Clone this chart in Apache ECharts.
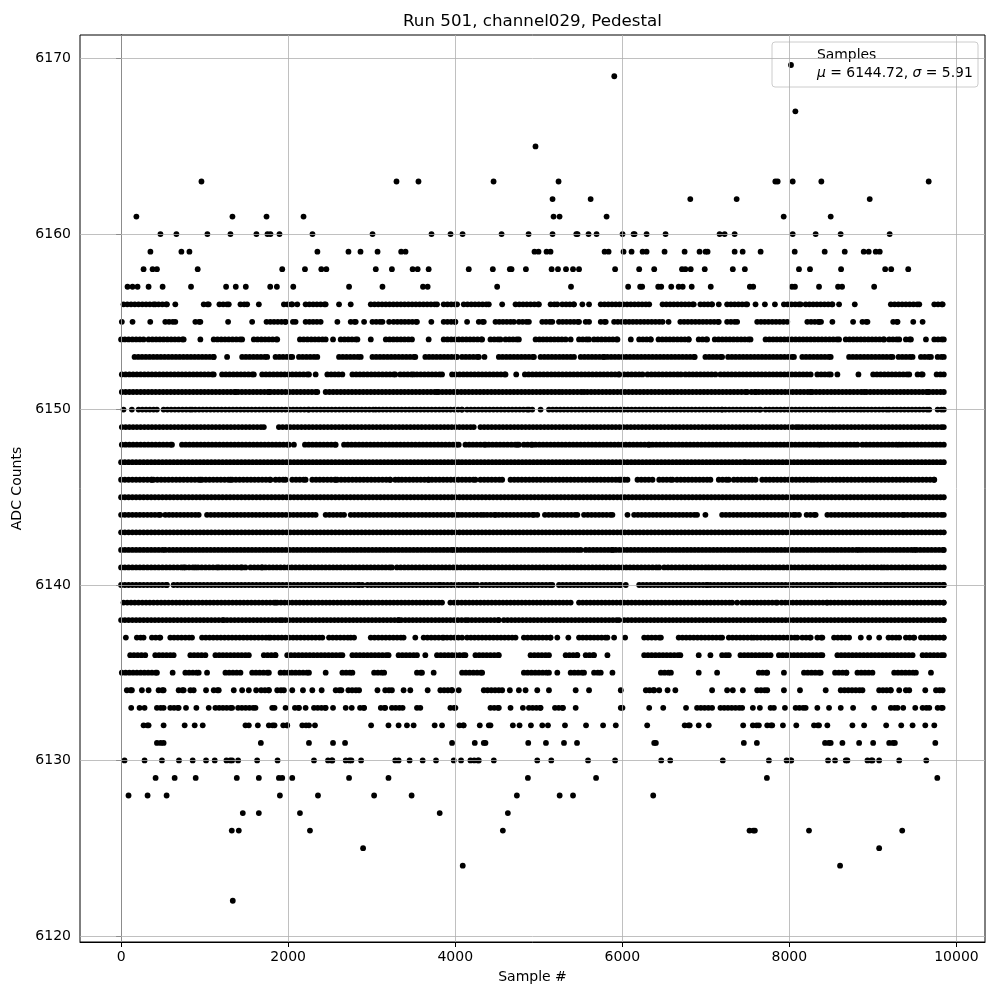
<!DOCTYPE html>
<html>
<head>
<meta charset="utf-8">
<script src="https://cdn.jsdelivr.net/npm/echarts@6/dist/echarts.min.js"></script>
<style>html,body{margin:0;padding:0;background:#fff}#chart{width:1000px;height:1000px}</style>
</head>
<body>
<div id="chart"></div>
<script>
// Tick labels
const X_TICKS = [0, 2000, 4000, 6000, 8000, 10000];
const Y_TICKS = [6120, 6130, 6140, 6150, 6160, 6170];

// Samples per ADC level: single sample indices, or [first, last] runs of consecutive dots
const L6169 = [5904];
const L6167 = [8072];
const L6165 = [4961];
const L6163 = [962, 3297, 3560, 4459, 5237, 7832, 7860, 8040, 8383, 9668];
const L6162 = [5165, 5621, 6814, 7369, 8962];
const L6161 = [183, 1333, 1741, 2184, 5177, 5249, 5812, 7932, 8495];
const L6160 = [471, 662, 1033, 1309, 1620, 1752, 1788, 1896, 2291, 3010, 3716, 3944, 4088, 4555, 4878, 5165, 5449, 5464, 5596, 5692, 6003, 6135, 6147, 6291, 6518, 7165, 7225, 7345, 8040, 8315, 8614, 9201];
const L6159 = [351, 722, 818, 2350, 2722, 2866, 3070, 3353, 3405, 4949, 4997, 5093, 5141, 5788, 5836, 6015, 6111, 6243, 6291, 6506, 6746, 6925, 6997, 7021, 7345, 7441, 7656, 8064, 8423, 8663, 8890, 8950, 9034, 9082];
const L6158 = [269, 377, 429, 917, 1929, 2201, 2397, 2457, 3049, 3242, 3490, 3550, 3682, 4162, 4450, 4654, 4674, 4846, 5154, 5230, 5326, 5410, 5482, 5914, 6202, 6382, 6715, 6755, 6819, 6987, 7323, 7467, 8115, 8247, 8619, 9147, 9219, 9423];
const L6157 = [77, 137, 197, 329, 497, 837, 1257, 1373, 1493, 1785, 1865, 2061, 2729, 3129, 3614, 3670, 4502, 5386, 6070, 6214, 6238, 6430, 6466, 6586, 6675, 6723, 6831, 7059, 7527, 7567, 8031, 8067, 8355, 8583, 8631, 9015];
const L6156 = [[29, 409], [449, 549], 649, [989, 1049], [1177, 1289], [1429, 1509], 1649, [1949, 2049], 2109, [2209, 2449], 2609, 2749, [2989, 3782], [3862, 4022], [4102, 4402], 4562, [4722, 5002], [5142, 5222], [5282, 5422], 5522, 5602, [5742, 6322], [6482, 6855], [6935, 7075], 7155, [7255, 7495], 7595, 7707, 7827, [7935, 8135], [8195, 8515], 8595, 8783, [9215, 9555], [9735, 9835]];
const L6155 = [9, 137, 349, [529, 649], [889, 949], 1281, 1569, [1741, 1969], [2057, 2089], [2209, 2389], 2589, [2749, 2809], 2909, [3009, 3129], 3209, [3262, 3542], 3714, [3862, 4002], 4142, [4282, 4342], [4482, 4702], [4762, 4882], [5042, 5162], [5242, 5482], [5562, 5602], [5742, 5802], [5902, 6482], 6554, [6695, 7155], [7255, 7375], [7615, 7975], [8215, 8355], 8379, 8515, 8763, [8875, 8935], [9243, 9295], 9483, 9595];
const L6154 = [[0, 269], [329, 749], 949, [1109, 1449], [1589, 1869], [2141, 2449], 2537, [2629, 2829], 2989, [3169, 3482], 3682, [3862, 4322], [4422, 4542], [4602, 4762], [4962, 5322], 5382, [5482, 5602], [5662, 5942], 6102, [6202, 6342], [6434, 6795], [6915, 7015], [7107, 7535], [7715, 8595], [8675, 9135], [9195, 9315], [9395, 9455], 9635, [9735, 9849]];
const L6153 = [[161, 1109], 1269, [1449, 1749], [1849, 2049], [2129, 2349], [2609, 2869], [3009, 3522], [3642, 4022], [4082, 4282], 4350, [4522, 4942], [5022, 5422], [5502, 5782], [5822, 6867], [6995, 7195], [7267, 8055], [8155, 8495], [8715, 9235], [9307, 9475], [9575, 9695], [9775, 9849]];
const L6152 = [[9, 1109], [1209, 1589], [1689, 2249], 2329, [2469, 2649], [2769, 3282], [3342, 3502], [3542, 3842], [3962, 4602], 4730, [4834, 5962], [6022, 6242], [6302, 6702], [6755, 7115], [7175, 8255], [8335, 8495], 8575, 8827, [9003, 9435], [9535, 9595], [9763, 9849]];
const L6151 = [[9, 1369], [1401, 1769], [1789, 2349], [2449, 3782], [3802, 5242], [5282, 5542], [5582, 7495], [7547, 7595], [7635, 8255], [8275, 8895], [8923, 9655], [9675, 9849]];
const L6150 = [29, 129, [209, 429], [509, 849], [889, 2249], [2297, 3049], [3089, 4082], [4142, 4882], 4922, 5022, [5122, 7195], [7235, 7655], [7715, 8515], [8547, 8855], [8895, 9195], [9243, 9675], [9775, 9849]];
const L6149 = [[9, 1709], [1889, 4222], [4302, 8115], [8155, 9849]];
const L6148 = [[9, 609], [729, 2009], 2069, [2201, 2569], [2669, 4042], [4122, 4362], [4402, 4742], 4762, [4822, 4922], [4962, 6322], [6362, 8375], [8415, 8815], [8875, 9315], [9355, 9849]];
const L6147 = [[0, 4042], [4082, 7475], [7515, 9849]];
const L6146 = [[0, 369], [389, 949], [969, 1309], [1329, 1789], [1849, 1969], [2049, 2209], [2289, 2569], [2589, 3222], [3282, 3322], [3362, 3682], [3722, 4242], [4302, 4562], [4662, 5962], [5982, 6062], [6182, 6362], [6442, 6602], [6655, 7055], [7155, 7275], [7335, 7555], 7595, [7675, 8295], [8335, 9735]];
const L6145 = [[0, 9849]];
const L6144 = [[0, 469], [529, 929], [1029, 2329], [2449, 2669], [2749, 4042], [4082, 4342], [4382, 4482], [4522, 4942], 4982, [5074, 5462], [5542, 5882], 6062, [6142, 6895], 6995, [7195, 8075], 8115, [8207, 8315], [8455, 9375], [9415, 9849]];
const L6143 = [[0, 9849]];
const L6142 = [[0, 529], [577, 3982], [4022, 5502], [5562, 5882], [5922, 8835], [8875, 9495], [9523, 9849]];
const L6141 = [[0, 749], [769, 889], [921, 1169], [1209, 1449], 1489, [1549, 1689], [1729, 3242], [3302, 6442], [6502, 7035], [7075, 9135], [9175, 9849]];
const L6140 = [[0, 549], [629, 2849], 2889, [2949, 3822], [3862, 4262], [4322, 5162], [5242, 5982], 6042, [6202, 7015], [7055, 8515], [8555, 9175], [9215, 9849]];
const L6139 = [[29, 1849], [1869, 3842], [3942, 5382], [5482, 7315], 7375, [7435, 7855], [7907, 8455], [8495, 9849]];
const L6138 = [[0, 1229], [1269, 1929], [1969, 3322], 3354, [3402, 4122], [4154, 4522], [4582, 5962], [6022, 9849]];
const L6137 = [57, [189, 269], [369, 469], [589, 849], [969, 1769], [1789, 2409], [2489, 2749], 2789, [2989, 3382], 3522, [3622, 3862], [3902, 4082], [4142, 4722], [4822, 5142], 5222, 5354, [5482, 5822], 5902, 6034, [6262, 6462], [6675, 7195], [7275, 7575], [7615, 8095], [8155, 8255], [8335, 8395], [8535, 8715], 8855, 8955, 9075, [9187, 9315], [9395, 9495], [9575, 9849]];
const L6136 = [[109, 289], [409, 629], [829, 1009], [1129, 1529], [1709, 1849], [1989, 2649], [2769, 3202], [3322, 3542], 3642, [3782, 4122], [4242, 4522], [4902, 5122], [5322, 5462], [5562, 5662], 5822, [6262, 6695], 6915, 7055, [7195, 7275], [7415, 7775], [7875, 8395], [8575, 9475], [9595, 9849]];
const L6135 = [[9, 429], 617, [769, 929], 1029, [1249, 1429], [1569, 1769], [1909, 2249], 2449, [2649, 2769], [3029, 3149], [3542, 3602], 3742, [4082, 4322], [4822, 5122], 5222, [5382, 5542], [5662, 5742], 5882, [6462, 6582], 6915, 7135, [7635, 7735], 7935, [8175, 8375], [8547, 8683], [8815, 8995], [9255, 9515], 9695];
const L6134 = [[69, 129], 249, 329, [449, 509], [689, 749], [829, 869], 1017, [1109, 1169], 1349, 1449, 1529, 1617, [1677, 1769], [1869, 1949], 2049, 2177, 2289, 2401, [2569, 2637], [2721, 2849], 3069, [3162, 3242], 3382, 3462, 3670, [3822, 3962], 4042, [4342, 4562], 4654, 4762, 4842, 4982, 5122, 5442, 5602, 5982, [6282, 6382], 6442, 6542, 6635, 7075, 7255, 7323, 7443, [7615, 7735], 7935, 8127, 8435, [8615, 8875], [9075, 9215], 9315, [9395, 9435], 9627, [9755, 9835]];
const L6133 = [121, 221, 281, [429, 509], [589, 689], 777, 901, 1049, [1129, 1329], [1401, 1609], [1809, 1837], 1969, [2081, 2129], 2209, [2309, 2449], 2537, 2689, 2761, [2861, 2909], [3109, 3162], [3242, 3370], [3542, 3582], [3942, 4002], [4422, 4522], 4662, 4810, [4882, 5022], [5194, 5290], 5442, [5982, 6002], 6322, 6490, 6763, [6895, 7075], [7175, 7435], 7563, 7647, [7775, 7815], 7947, [8075, 8195], 8335, 8475, 8615, 8763, 9015, [9215, 9295], 9363, 9507, [9595, 9675], [9775, 9835]];
const L6132 = [[269, 329], 509, 761, 881, 977, [1489, 1529], 1637, [1769, 1837], [1941, 1989], [2169, 2249], 2321, 2993, 3201, 3322, 3422, 3502, 3754, 3842, [4050, 4102], 4294, [4402, 4422], 4690, 4770, 4906, 5042, 5110, 5314, 5566, 5770, 5922, 6298, [6747, 6807], 6915, 7035, 7447, [7563, 7635], [7735, 7795], 7923, 8083, [8295, 8355], 8455, 8755, 8895, 9159, 9339, 9475, 9627, 9735];
const L6131 = [[429, 509], 1673, 2249, 2537, 2681, 3962, 4234, [4342, 4362], 4874, 5086, 5302, 5458, [6382, 6402], 7455, 7611, [8427, 8495], 8635, 8835, 9003, [9195, 9263], 9747];
const L6130 = [41, 281, 489, 693, 857, 1017, 1121, [1261, 1329], 1401, 1629, 1873, 2309, [2477, 2529], [2689, 2757], 2873, [3282, 3322], 3454, 3610, 3770, 3982, 4070, [4182, 4282], 4462, 4982, 5150, 5590, 5914, 6466, 6574, 7203, 7755, [7967, 8023], 8463, 8547, [8675, 8695], [8935, 8995], 9075, 9315, 9639];
const L6129 = [413, 641, 893, 1385, 1649, [1889, 1929], 2049, 2729, 3201, 4870, 5686, 7731, 9771];
const L6128 = [89, 317, 545, 1901, 2357, 3029, 3478, 4738, 5250, 5410, 6370];
const L6127 = [1457, 1649, 2141, 3814, 4630];
const L6126 = [1325, 1409, 2261, 4570, [7523, 7587], 8235, 9351];
const L6125 = [2897, 9075];
const L6124 = [4090, 8607];
const L6122 = [1337];

const LEVELS = [6169, 6167, 6165, 6163, 6162, 6161, 6160, 6159, 6158, 6157, 6156, 6155, 6154, 6153, 6152, 6151, 6150, 6149, 6148, 6147, 6146, 6145, 6144, 6143, 6142, 6141, 6140, 6139, 6138, 6137, 6136, 6135, 6134, 6133, 6132, 6131, 6130, 6129, 6128, 6127, 6126, 6125, 6124, 6122];
const LEVEL_SAMPLES = [L6169, L6167, L6165, L6163, L6162, L6161, L6160, L6159, L6158, L6157, L6156, L6155, L6154, L6153, L6152, L6151, L6150, L6149, L6148, L6147, L6146, L6145, L6144, L6143, L6142, L6141, L6140, L6139, L6138, L6137, L6136, L6135, L6134, L6133, L6132, L6131, L6130, L6129, L6128, L6127, L6126, L6125, L6124, L6122];

const MEAN_TEXT = '6144.72';
const SIGMA_TEXT = '5.91';

// expand runs of consecutive dots into points (one dot drawn every few samples)
const RUN_STEP = 45;
const points = [];
LEVELS.forEach((lv, i) => {
  LEVEL_SAMPLES[i].forEach(r => {
    if (typeof r === 'number') { points.push([r, lv]); }
    else {
      for (let x = r[0]; x < r[1]; x += RUN_STEP) points.push([x, lv]);
      points.push([r[1], lv]);
    }
  });
});

const FONT = 'DejaVu Sans';
const chart = echarts.init(document.getElementById('chart'), null, { renderer: 'canvas' });
chart.setOption({
  animation: false,
  backgroundColor: '#ffffff',
  grid: { left: 80, top: 35, width: 905, height: 907, show: true, borderColor: '#000', borderWidth: 1, backgroundColor: 'transparent' },
  xAxis: {
    type: 'value', min: -492, max: 10342,
    name: 'Sample #', nameLocation: 'middle', nameGap: 28,
    nameTextStyle: { fontFamily: FONT, fontSize: 14, color: '#000' },
    axisLine: { show: true, lineStyle: { color: '#000', width: 1 } },
    axisTick: { show: true, length: 5, lineStyle: { color: '#000', width: 1 }, customValues: X_TICKS },
    axisLabel: { fontFamily: FONT, fontSize: 14, color: '#000', margin: 8, customValues: X_TICKS, formatter: v => String(v) },
    splitLine: { show: false }
  },
  yAxis: {
    type: 'value', min: 6119.65, max: 6171.35,
    name: 'ADC Counts', nameLocation: 'middle', nameGap: 47,
    nameTextStyle: { fontFamily: FONT, fontSize: 14, color: '#000' },
    axisLine: { show: true, lineStyle: { color: '#000', width: 1 } },
    axisTick: { show: true, length: 5, lineStyle: { color: '#000', width: 1 }, customValues: Y_TICKS },
    axisLabel: { fontFamily: FONT, fontSize: 14, color: '#000', margin: 9, customValues: Y_TICKS, formatter: v => String(v) },
    splitLine: { show: false }
  },
  series: [
    {
      type: 'line', data: [], z: 1, silent: true,
      markLine: {
        silent: true, symbol: ['none', 'none'], animation: false,
        label: { show: false },
        lineStyle: { color: '#b0b0b0', width: 0.8, type: 'solid' },
        data: X_TICKS.map(v => ({ xAxis: v })).concat(Y_TICKS.map(v => ({ yAxis: v })))
      }
    },
    {
      type: 'scatter', name: 'Samples', data: points, z: 3,
      symbol: 'circle', symbolSize: 5.8,
      itemStyle: { color: '#000', opacity: 1 },
      large: false, silent: true
    }
  ],
  graphic: [
    { type: 'text', x: 532.5, y: 22, style: { text: 'Run 501, channel029, Pedestal', font: '16.7px "DejaVu Sans"', fill: '#000', align: 'center', verticalAlign: 'middle' } },
    { type: 'rect', shape: { x: 772, y: 42, width: 206, height: 45, r: 3 }, style: { fill: 'rgba(255,255,255,0.8)', stroke: '#cccccc', lineWidth: 1 }, z: 100 },
    { type: 'circle', shape: { cx: 791, cy: 65, r: 2.9 }, style: { fill: '#000' }, z: 101 },
    { type: 'text', x: 817, y: 55, z: 101, style: { text: 'Samples', font: '13.9px "DejaVu Sans"', fill: '#000', verticalAlign: 'middle' } },
    { type: 'text', x: 817, y: 73, z: 101, style: {
        text: '{i|μ} = ' + MEAN_TEXT + ', {i|σ} = ' + SIGMA_TEXT,
        font: '13.9px "DejaVu Sans"', fill: '#000', verticalAlign: 'middle',
        rich: { i: { fontStyle: 'italic', fontFamily: FONT, fontSize: 13.9, fill: '#000' } }
    } }
  ]
});
</script>
</body>
</html>
